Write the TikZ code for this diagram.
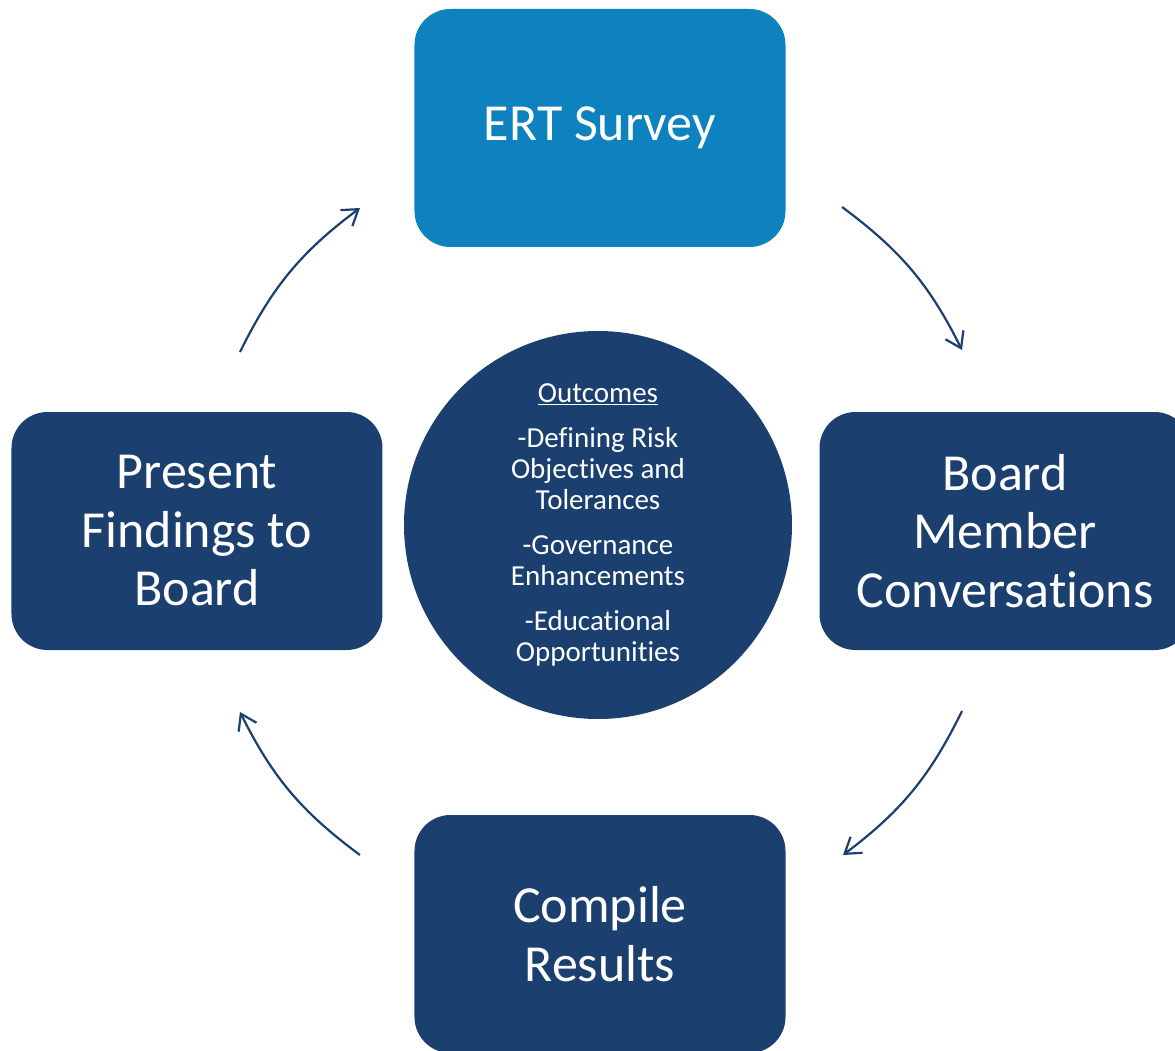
\documentclass[tikz,border=0pt]{standalone}
\usepackage{fontspec}
\setmainfont{Carlito}[Ligatures=NoCommon]
\usetikzlibrary{arrows.meta}

\definecolor{navy}{RGB}{27,64,112}
\definecolor{sky}{RGB}{14,129,191}

\tikzset{
  stage/.style={rectangle, rounded corners=36pt, fill=navy, text=white,
    minimum width=371pt, minimum height=238pt, inner sep=0pt,
    align=center, font=\fontsize{52}{58.5}\selectfont},
  hub/.style={circle, fill=navy, text=white, minimum size=388pt, inner sep=0pt,
    align=center, font=\fontsize{29}{31}\selectfont},
  flow/.style={navy, line width=2.2pt, -{Straight Barb[length=15pt,width=20pt]}}
}

\begin{document}
\begin{tikzpicture}[x=1pt, y=1pt]
        \useasboundingbox (-598,-525) rectangle (577,525);

        \node[hub] (outcomes) at (0,0) {\underline{Outcomes}\\[14pt]
            -Defining Risk\\Objectives and\\Tolerances\\[14pt]
            -Governance\\Enhancements\\[14pt]
            -Educational\\Opportunities};

        \node[stage, fill=sky] (survey) at (2,397) {ERT Survey};
        \node[stage] (talks) at (407,-6) {Board\\Member\\Conversations};
        \node[stage] (results) at (2,-409) {Compile\\Results};
        \node[stage] (findings) at (-401,-6) {Present\\Findings to\\Board};

        % arrow ends round the hub
        \coordinate (a1) at (-358,173);  \coordinate (b1) at (-238,317);
        \coordinate (a2) at (244,318);   \coordinate (b2) at (364,175);
        \coordinate (a3) at (364,-186);  \coordinate (b3) at (245,-330);
        \coordinate (a4) at (-238,-330); \coordinate (b4) at (-358,-187);

        \foreach \i in {1, 2, 3, 4}
            \draw[flow] (a\i) to[bend left=13.5] (b\i);
    \end{tikzpicture}
\end{document}
